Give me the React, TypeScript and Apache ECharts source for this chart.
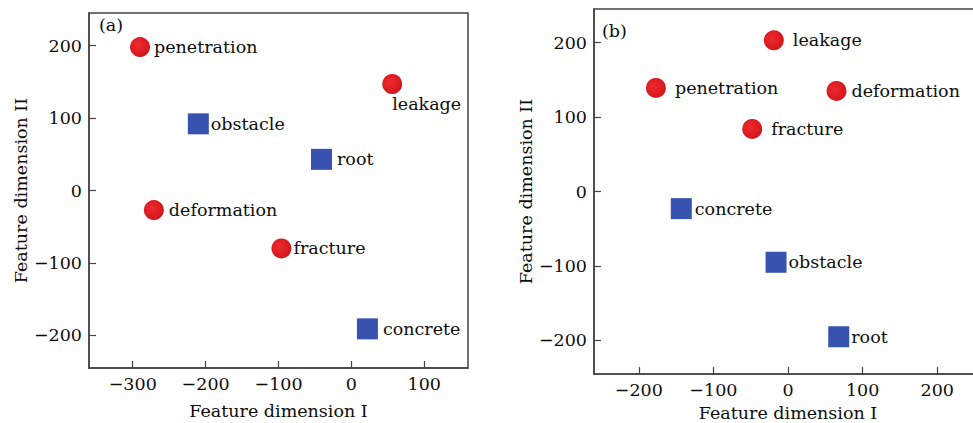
import React, { useEffect, useRef } from "react";
import * as echarts from "echarts";

// Panel (a)
const aCircleNames = ["penetration", "leakage", "deformation", "fracture"];
const aCircleX = [-290, 56, -271, -96];
const aCircleY = [198, 147, -27, -80];
const aSquareNames = ["obstacle", "root", "concrete"];
const aSquareX = [-210, -41, 22];
const aSquareY = [92, 43, -191];

// Panel (b)
const bCircleNames = ["leakage", "penetration", "deformation", "fracture"];
const bCircleX = [-19, -177, 65, -48];
const bCircleY = [203, 139, 135, 84];
const bSquareNames = ["concrete", "obstacle", "root"];
const bSquareX = [-143, -16, 68];
const bSquareY = [-23, -95, -195];

const xTicksA = [-300, -200, -100, 0, 100];
const xTicksB = [-200, -100, 0, 100, 200];
const yTicks = [-200, -100, 0, 100, 200];

const axisTitleX = "Feature dimension I";
const axisTitleY = "Feature dimension II";
const panelTags = ["(a)", "(b)"];

const FONT = "DejaVu Serif";
const TEXT = "#0d0d0d";
const FS = 17.5;
const RED = {
  type: "radial",
  x: 0.4,
  y: 0.4,
  r: 0.65,
  colorStops: [
    { offset: 0, color: "#ee2a2e" },
    { offset: 1, color: "#d0151c" },
  ],
};
const BLUE = "#3852b0";
const AXIS_COLOR = "#444";

// label gaps (styling only)
const gapA: Record<string, number> = {
  penetration: 4, deformation: 5, fracture: 2, obstacle: 2, root: 5, concrete: 5,
};
const gapB: Record<string, number> = {
  leakage: 9, penetration: 9, deformation: 5, fracture: 9, concrete: 3, obstacle: 2, root: 2,
};

function pts(names: string[], xs: number[], ys: number[], gaps: Record<string, number>, special?: string) {
  return names.map((n, i) => {
    const item: any = { name: n, value: [xs[i], ys[i]] };
    if (special && n === special) {
      item.label = { position: [10, 30], align: "left", verticalAlign: "middle" };
    } else {
      item.label = { distance: gaps[n] ?? 4 };
    }
    return item;
  });
}

const fmt = (v: number) => (v < 0 ? "\u2212" + Math.abs(v) : String(v));

export default function App() {
  const ref = useRef<HTMLDivElement>(null);
  useEffect(() => {
    document.body.style.margin = "0";
    const chart = echarts.init(ref.current!, null, { renderer: "svg" });
    const xAxis = (idx: number, min: number, max: number, ticks: number[], gap: number) => ({
      type: "value",
      gridIndex: idx,
      min,
      max,
      name: axisTitleX,
      nameLocation: "middle",
      nameGap: gap,
      nameTextStyle: { fontFamily: FONT, fontSize: FS, color: TEXT },
      axisLine: { show: true, onZero: false, lineStyle: { color: AXIS_COLOR, width: 1.5 } },
      axisTick: { show: true, inside: true, length: 7, customValues: ticks, lineStyle: { color: AXIS_COLOR, width: 1.2 } },
      axisLabel: {
        fontFamily: FONT,
        fontSize: FS,
        color: TEXT,
        margin: 7,
        customValues: ticks,
        formatter: fmt,
      },
      splitLine: { show: false },
    });
    const yAxis = (idx: number) => ({
      type: "value",
      gridIndex: idx,
      min: -245,
      max: 245,
      name: axisTitleY,
      nameLocation: "middle",
      nameGap: 57,
      nameTextStyle: { fontFamily: FONT, fontSize: FS, color: TEXT },
      axisLine: { show: true, onZero: false, lineStyle: { color: AXIS_COLOR, width: 1.5 } },
      axisTick: { show: true, inside: true, length: 7, customValues: yTicks, lineStyle: { color: AXIS_COLOR, width: 1.2 } },
      axisLabel: {
        fontFamily: FONT,
        fontSize: FS,
        color: TEXT,
        margin: 7,
        customValues: yTicks,
        formatter: fmt,
      },
      splitLine: { show: false },
    });

    const labelBase = {
      show: true,
      position: "right",
      formatter: "{b}",
      fontFamily: FONT,
      fontSize: FS,
      color: TEXT,
    };
    const circle = (xi: number, data: any[]) => ({
      type: "scatter",
      xAxisIndex: xi,
      yAxisIndex: xi,
      symbol: "circle",
      symbolSize: 20,
      itemStyle: { color: RED, opacity: 1 },
      label: labelBase,
      data,
    });
    const square = (xi: number, data: any[]) => ({
      type: "scatter",
      xAxisIndex: xi,
      yAxisIndex: xi,
      symbol: "rect",
      symbolSize: 21,
      itemStyle: { color: BLUE, opacity: 1 },
      label: labelBase,
      data,
    });

    chart.setOption({
      animation: false,
      grid: [
        { left: 89, top: 13, width: 379, height: 355, show: true, borderColor: AXIS_COLOR, borderWidth: 1.5, backgroundColor: "transparent", outerBoundsMode: "none", containLabel: false },
        { left: 594, top: 9, width: 388, height: 365, show: true, borderColor: AXIS_COLOR, borderWidth: 1.5, backgroundColor: "transparent", outerBoundsMode: "none", containLabel: false },
      ],
      xAxis: [xAxis(0, -360, 160, xTicksA, 34), xAxis(1, -260, 260, xTicksB, 29)],
      yAxis: [yAxis(0), yAxis(1)],
      series: [
        circle(0, pts(aCircleNames, aCircleX, aCircleY, gapA, "leakage")),
        square(0, pts(aSquareNames, aSquareX, aSquareY, gapA)),
        circle(1, pts(bCircleNames, bCircleX, bCircleY, gapB)),
        square(1, pts(bSquareNames, bSquareX, bSquareY, gapB)),
      ],
      graphic: [
        { type: "text", left: 99, top: 16, style: { text: panelTags[0], font: `${FS}px "${FONT}"`, fill: TEXT } },
        { type: "text", left: 602, top: 22, style: { text: panelTags[1], font: `${FS}px "${FONT}"`, fill: TEXT } },
      ],
    });
    return () => chart.dispose();
  }, []);
  return (
    <div
      ref={ref}
      style={{ position: "absolute", left: 0, top: 0, width: 973, height: 423, background: "#fff" }}
    />
  );
}
